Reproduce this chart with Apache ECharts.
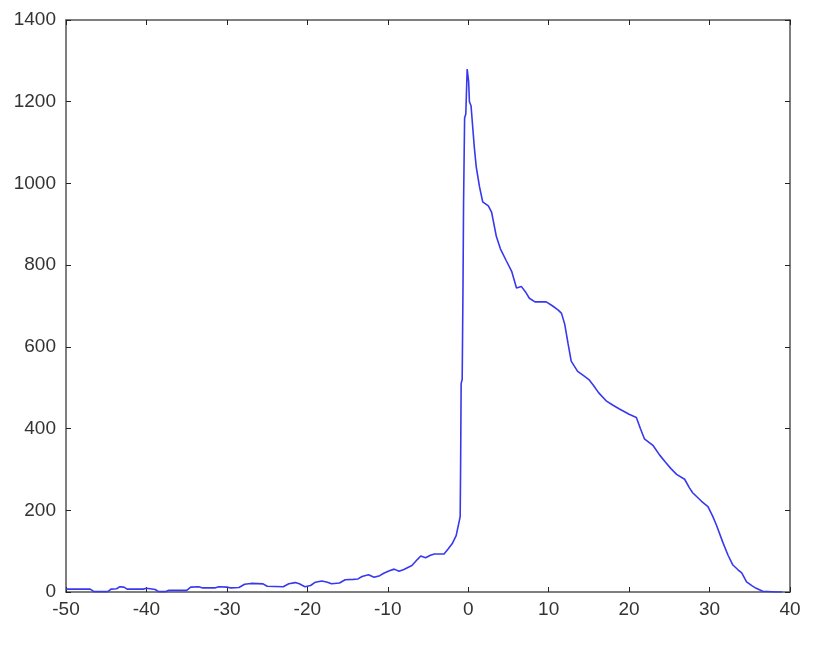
<!DOCTYPE html>
<html>
<head>
<meta charset="utf-8">
<script src="https://cdn.jsdelivr.net/npm/echarts@6/dist/echarts.min.js"></script>
<style>html,body{margin:0;padding:0;background:#fff}#c{width:825px;height:649px}</style>
</head>
<body>
<div id="c"></div>
<script>
const xs = [-50,-47,-46.5,-44.8,-44.4,-43.7,-43.3,-42.8,-42.4,-40.4,-40,-38.9,-38.5,-37.6,-37.2,-35,-34.5,-33.5,-33,-31.5,-31,-30,-29.5,-28.5,-27.8,-27,-25.5,-25,-23,-22.3,-21.5,-21,-20.3,-19.6,-19,-18.2,-17.5,-17,-16,-15.3,-14.3,-13.7,-13.2,-12.4,-11.7,-11,-10.5,-9.8,-9.2,-8.6,-8,-7,-6.3,-5.9,-5.3,-4.7,-4.2,-3,-2.5,-2,-1.5,-1.1,-1,-0.95,-0.88,-0.75,-0.65,-0.58,-0.45,-0.3,-0.13,0.05,0.15,0.35,0.55,0.75,1.0,1.4,1.8,2.5,2.9,3.5,4,4.7,5.4,6,6.6,7.1,7.6,8.3,9.7,10.5,11.2,11.6,12,12.4,12.8,13.6,14.3,15,15.6,16.2,17.2,18,18.8,20,20.9,21.4,21.9,23,23.8,24.5,25.2,25.9,26.9,27.5,27.9,29,29.8,30.4,30.85,31.7,32.3,32.9,33.5,34,34.6,35.3,35.8,36.6,38.3,39];
const ys = [7,7,1,1,7,8,13,12,7,7,9,6,1,1,4,4,12,13,10,10,13,12,10,11,19,21,20,14,13,20,23,20,13,16,24,27,24,20,22,30,31,32,38,42,36,40,46,52,56,51,55,65,80,88,84,90,93,93,105,118,138,175,185,300,510,520,745,950,1160,1170,1280,1250,1200,1190,1140,1090,1040,992,955,945,930,870,840,812,785,744,748,735,719,710,710,700,690,682,655,609,565,540,530,520,505,488,467,457,448,435,427,400,375,358,335,318,302,288,276,255,243,222,209,185,164,119,90,66,55,47,25,15,9,2,0,0];
const xTicks = [-50,-40,-30,-20,-10,0,10,20,30,40];
const yTicks = [0,200,400,600,800,1000,1200,1400];

const chart = echarts.init(document.getElementById('c'));
const font = 'Liberation Sans, Arial, sans-serif';
const lineCol = '#555';
function xAx(pos, labels) {
  return {type:'value', position:pos, min:xTicks[0], max:xTicks[xTicks.length-1], interval:10,
    axisLine:{show:true, onZero:false, lineStyle:{color:lineCol, width:1.5}},
    axisTick:{show:true, inside:true, length:5, lineStyle:{color:'#222'}},
    axisLabel:{show:labels, fontSize:19, color:'#333', fontFamily:font, margin:8, formatter:v=>String(v)},
    splitLine:{show:false}};
}
function yAx(pos, labels) {
  return {type:'value', position:pos, min:yTicks[0], max:yTicks[yTicks.length-1], interval:200,
    axisLine:{show:true, onZero:false, lineStyle:{color:lineCol, width:1.5}},
    axisTick:{show:true, inside:true, length:5, lineStyle:{color:'#222'}},
    axisLabel:{show:labels, fontSize:19, color:'#333', fontFamily:font, margin:10, formatter:v=>String(v)},
    splitLine:{show:false}};
}
chart.setOption({
  animation:false,
  backgroundColor:'#fff',
  grid:{left:66, right:35, top:20, bottom:57},
  xAxis:[xAx('bottom', true), xAx('top', false)],
  yAxis:[yAx('left', true), yAx('right', false)],
  series:[{type:'line', xAxisIndex:0, yAxisIndex:0, showSymbol:false,
    data: xs.map((x,i)=>[x, ys[i]]),
    lineStyle:{color:'#3838ee', width:1.6}}]
});
</script>
</body>
</html>
